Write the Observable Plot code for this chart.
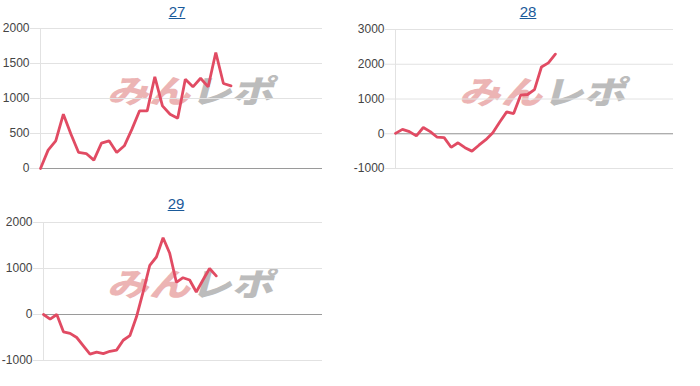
<!DOCTYPE html>
<html><head><meta charset="utf-8">
<script src="https://cdn.jsdelivr.net/npm/d3@7"></script>
<script src="https://cdn.jsdelivr.net/npm/@observablehq/plot@0.6"></script>
<style>
body{margin:0;background:#fff;font-family:Arial,"Liberation Sans",sans-serif;}
#root{position:relative;width:700px;height:386px;overflow:hidden;}
.title{position:absolute;font-size:15px;color:#1a5a9a;text-decoration:underline;transform:translateX(-50%);line-height:18px;white-space:nowrap;}
.wm{position:absolute;font-family:"Noto Sans CJK JP";font-weight:900;font-size:32px;white-space:nowrap;transform:translate(-50%,-50%) skewX(-15deg) scaleX(1.3);line-height:1;z-index:0;}
.wm .a{color:#ecb4b4}.wm .b{color:#bcbcbc}
.chart{position:absolute;z-index:1;}
</style></head>
<body><div id="root"></div>
<script>
// Data
const titles = ["27", "28", "29"];
const series27 = [0,262,395,776,490,229,214,119,362,395,229,324,562,824,824,1310,895,776,719,1276,1167,1290,1167,1657,1214,1181];
const series28 = [10,125,60,-60,180,60,-100,-110,-390,-260,-400,-500,-330,-170,30,340,630,580,1110,1130,1270,1920,2040,2290];
const series29 = [0,-100,0,-377,-410,-500,-680,-860,-820,-850,-800,-775,-560,-460,-50,490,1070,1250,1670,1330,700,800,750,490,750,1000,840];
const ticks27 = [0,500,1000,1500,2000];
const ticks28 = [-1000,0,1000,2000,3000];
const ticks29 = [-1000,0,1000,2000];
const xMax = [37, 40, 42];

const layout = [
  {left:0, top:24, w:340, h:166, mt:4, mb:22, ml:40, mr:18, tx:177, ty:3, wx:194, wy:89},
  {left:340, top:24, w:360, h:166, mt:5, mb:22, ml:55, mr:27, tx:528, ty:3, wx:546, wy:90},
  {left:0, top:214, w:340, h:172, mt:8, mb:26, ml:43, mr:18, tx:176, ty:195, wx:194, wy:282}
];
const allSeries = [series27, series28, series29];
const allTicks = [ticks27, ticks28, ticks29];

const root = document.getElementById("root");

function chart(values, yTicks, xm, L){
  const data = values.map((v,i)=>({i, v}));
  return Plot.plot({
    width:L.w, height:L.h, marginTop:L.mt, marginBottom:L.mb, marginLeft:L.ml, marginRight:L.mr,
    style:{background:"transparent", fontFamily:"Arial, 'Liberation Sans', sans-serif", fontSize:"12px", color:"#444", overflow:"visible"},
    x:{domain:[0,xm], axis:null},
    y:{domain:[yTicks[0], yTicks[yTicks.length-1]], label:null},
    marks:[
      Plot.gridY(yTicks, {stroke:"#e2e2e2", strokeOpacity:1}),
      Plot.axisY(yTicks, {tickSize:10, tickPadding:1, stroke:"#e2e2e2", strokeOpacity:1, fill:"#444", tickFormat:d=>String(d), label:null}),
      Plot.ruleX([0], {stroke:"#e2e2e2"}),
      Plot.ruleY([0], {stroke:"#9a9a9a"}),
      Plot.line(data, {x:"i", y:"v", stroke:"#e14b63", strokeWidth:2.8, strokeLinejoin:"miter"})
    ]
  });
}

titles.forEach((t, k) => {
  const L = layout[k];
  const wm = document.createElement("div");
  wm.className = "wm";
  wm.style.left = L.wx + "px"; wm.style.top = L.wy + "px";
  wm.innerHTML = '<span class="a">みん</span><span class="b">レポ</span>';
  root.appendChild(wm);

  const title = document.createElement("div");
  title.className = "title";
  title.style.left = L.tx + "px"; title.style.top = L.ty + "px";
  title.textContent = t;
  root.appendChild(title);

  const svg = chart(allSeries[k], allTicks[k], xMax[k], L);
  svg.classList.add("chart");
  svg.style.left = L.left + "px"; svg.style.top = L.top + "px";
  svg.style.position = "absolute";
  root.appendChild(svg);
});
</script>
</body></html>
